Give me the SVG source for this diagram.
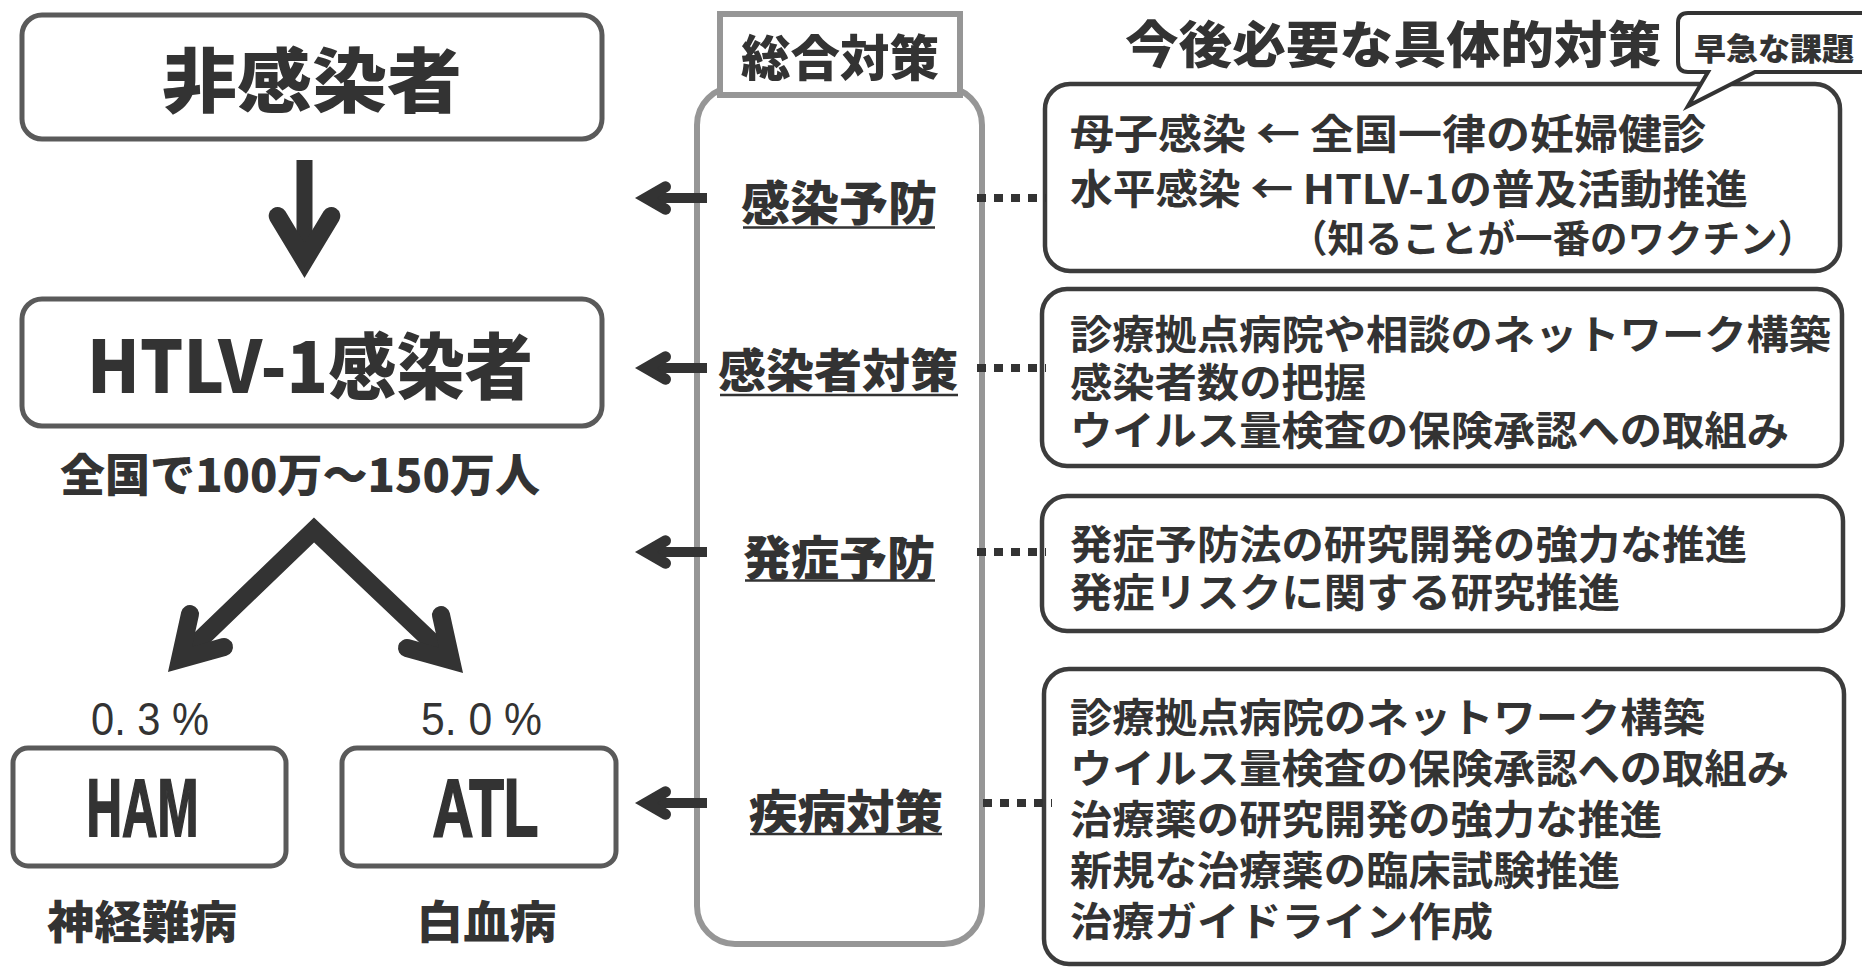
<svg xmlns="http://www.w3.org/2000/svg" xmlns:xlink="http://www.w3.org/1999/xlink" width="1862" height="968" viewBox="0 0 1862 968">
<style>
.jp{font-family:'Noto Sans CJK JP','Noto Sans CJK SC',sans-serif;fill:#333}
.hv{font-weight:900}
.bd{font-weight:700}
.lat{font-family:'Liberation Sans','Noto Sans CJK JP',sans-serif;fill:#333}
.emb{stroke:#333;stroke-width:2}
.lbox{fill:#fff;stroke:#5a5a5a;stroke-width:5}
.rbox{fill:#fff;stroke:#3c3c3c;stroke-width:4.5}
.gbox{fill:#fff;stroke:#969696;stroke-width:6}
.ul{stroke:#333;stroke-width:2.5}
.dot{stroke:#333;stroke-width:8;stroke-dasharray:9 8;fill:none}
.ar{stroke:#333;fill:none}
</style>
<defs>
<g id="la">
<path class="ar" d="M11,0 H72" stroke-width="10"/>
<path class="ar" d="M30.5,-11.25 L11,0 L30.5,11.25" stroke-width="11" stroke-linecap="round" stroke-linejoin="miter"/>
</g>
</defs>
<rect width="1862" height="968" fill="#fff"/>

<g id="node-hikansen">
<rect class="lbox" x="22" y="15" width="580" height="124" rx="20"/>
<text class="jp hv" x="312" y="107" font-size="70" text-anchor="middle" textLength="300" lengthAdjust="spacingAndGlyphs">非感染者</text>
</g>
<g id="node-kansen">
<rect class="lbox" x="22" y="299" width="580" height="127" rx="20"/>
<text class="jp hv" x="310" y="393" font-size="72" text-anchor="middle" textLength="446" lengthAdjust="spacingAndGlyphs">HTLV-1感染者</text>
<text class="jp hv" x="300" y="492" font-size="45" text-anchor="middle" textLength="480" lengthAdjust="spacingAndGlyphs">全国で100万〜150万人</text>
</g>
<g id="node-ham">
<text class="lat" x="91" y="735" font-size="47" textLength="118" lengthAdjust="spacingAndGlyphs">0. 3 %</text>
<rect class="lbox" x="13" y="748" width="273" height="118" rx="15"/>
<text class="lat bd emb" x="142.5" y="836" font-size="82" text-anchor="middle" textLength="112" lengthAdjust="spacingAndGlyphs">HAM</text>
<text class="jp hv" x="142" y="939" font-size="45" text-anchor="middle" textLength="190" lengthAdjust="spacingAndGlyphs">神経難病</text>
</g>
<g id="node-atl">
<text class="lat" x="421" y="735" font-size="47" textLength="121" lengthAdjust="spacingAndGlyphs">5. 0 %</text>
<rect class="lbox" x="342" y="748" width="274" height="118" rx="15"/>
<text class="lat bd emb" x="485.5" y="836" font-size="82" text-anchor="middle" textLength="106" lengthAdjust="spacingAndGlyphs">ATL</text>
<text class="jp hv" x="486.5" y="939" font-size="45" text-anchor="middle" textLength="140" lengthAdjust="spacingAndGlyphs">白血病</text>
</g>

<g id="node-sogo">
<rect class="gbox" x="697" y="87" width="285" height="857" rx="38"/>
<rect class="gbox" x="720" y="14" width="240" height="81"/>
<text class="jp hv" x="840" y="76" font-size="49" text-anchor="middle" textLength="198" lengthAdjust="spacingAndGlyphs">総合対策</text>
</g>
<g id="node-yobo">
<text class="jp hv" x="839" y="220" font-size="47" text-anchor="middle" textLength="196" lengthAdjust="spacingAndGlyphs">感染予防</text>
<line class="ul" x1="743" y1="227.5" x2="935" y2="227.5"/>
</g>
<g id="node-kansensha">
<text class="jp hv" x="838" y="387" font-size="46" text-anchor="middle" textLength="240" lengthAdjust="spacingAndGlyphs">感染者対策</text>
<line class="ul" x1="720" y1="395" x2="958" y2="395"/>
</g>
<g id="node-hassho">
<text class="jp hv" x="839" y="575" font-size="47" text-anchor="middle" textLength="192" lengthAdjust="spacingAndGlyphs">発症予防</text>
<line class="ul" x1="745" y1="580.5" x2="935" y2="580.5"/>
</g>
<g id="node-shippei">
<text class="jp hv" x="846" y="829" font-size="47" text-anchor="middle" textLength="194" lengthAdjust="spacingAndGlyphs">疾病対策</text>
<line class="ul" x1="750" y1="834" x2="942" y2="834"/>
</g>

<g id="node-title">
<text class="jp hv" x="1125" y="63" font-size="50" textLength="536" lengthAdjust="spacingAndGlyphs">今後必要な具体的対策</text>
</g>
<g id="node-box-a">
<rect class="rbox" x="1045" y="84" width="795" height="187" rx="25"/>
<text class="jp bd" x="1070" y="149" font-size="41" textLength="636" lengthAdjust="spacingAndGlyphs">母子感染 ← 全国一律の妊婦健診</text>
<text class="jp bd" x="1070" y="204" font-size="41" textLength="678" lengthAdjust="spacingAndGlyphs">水平感染 ← HTLV-1の普及活動推進</text>
<text class="jp bd" x="1290" y="252" font-size="38" textLength="525" lengthAdjust="spacingAndGlyphs">（知ることが一番のワクチン）</text>
</g>
<g id="node-bubble">
<path d="M1688,13 L1872,13 L1872,72 L1755,72 L1688,106 L1708,72 L1688,72 Q1678,72 1678,62 L1678,23 Q1678,13 1688,13 Z" fill="#fff" stroke="#333" stroke-width="4" stroke-linejoin="miter"/>
<text class="jp hv" x="1694" y="60" font-size="31" textLength="160" lengthAdjust="spacingAndGlyphs">早急な課題</text>
</g>
<g id="node-box-b">
<rect class="rbox" x="1042" y="289" width="800" height="177" rx="25"/>
<text class="jp bd" x="1070" y="349" font-size="40" textLength="761" lengthAdjust="spacingAndGlyphs">診療拠点病院や相談のネットワーク構築</text>
<text class="jp bd" x="1070" y="397" font-size="40" textLength="296" lengthAdjust="spacingAndGlyphs">感染者数の把握</text>
<text class="jp bd" x="1070" y="445" font-size="40" textLength="719" lengthAdjust="spacingAndGlyphs">ウイルス量検査の保険承認への取組み</text>
</g>
<g id="node-box-c">
<rect class="rbox" x="1042" y="496" width="801" height="135" rx="25"/>
<text class="jp bd" x="1070" y="559" font-size="40" textLength="677" lengthAdjust="spacingAndGlyphs">発症予防法の研究開発の強力な推進</text>
<text class="jp bd" x="1070" y="607" font-size="40" textLength="550" lengthAdjust="spacingAndGlyphs">発症リスクに関する研究推進</text>
</g>
<g id="node-box-d">
<rect class="rbox" x="1044" y="669" width="800" height="295" rx="25"/>
<text class="jp bd" x="1070" y="732" font-size="40" textLength="635" lengthAdjust="spacingAndGlyphs">診療拠点病院のネットワーク構築</text>
<text class="jp bd" x="1070" y="783" font-size="40" textLength="719" lengthAdjust="spacingAndGlyphs">ウイルス量検査の保険承認への取組み</text>
<text class="jp bd" x="1070" y="834" font-size="40" textLength="592" lengthAdjust="spacingAndGlyphs">治療薬の研究開発の強力な推進</text>
<text class="jp bd" x="1070" y="885" font-size="40" textLength="550" lengthAdjust="spacingAndGlyphs">新規な治療薬の臨床試験推進</text>
<text class="jp bd" x="1070" y="936" font-size="40" textLength="423" lengthAdjust="spacingAndGlyphs">治療ガイドライン作成</text>
</g>

<g id="connectors">
<path class="ar" d="M304.5,160 V261" stroke-width="16"/>
<path class="ar" d="M277.7,216 L304.5,260.5 L331.3,216" stroke-width="18" stroke-linecap="round" stroke-linejoin="miter"/>
<path class="ar" d="M180,659 L314,530 L451,660" stroke-width="18" stroke-linejoin="miter"/>
<path class="ar" d="M190,614 L180,659.3 L224,647" stroke-width="18" stroke-linecap="round" stroke-linejoin="miter"/>
<path class="ar" d="M441,615 L451,660.3 L407,648" stroke-width="18" stroke-linecap="round" stroke-linejoin="miter"/>
<use xlink:href="#la" href="#la" x="635" y="198"/>
<use xlink:href="#la" href="#la" x="635" y="368"/>
<use xlink:href="#la" href="#la" x="635" y="552"/>
<use xlink:href="#la" href="#la" x="635" y="803"/>
<line class="dot" x1="977" y1="198" x2="1046" y2="198"/>
<line class="dot" x1="977" y1="368" x2="1046" y2="368"/>
<line class="dot" x1="977" y1="552" x2="1046" y2="552"/>
<line class="dot" x1="983" y1="803" x2="1052" y2="803"/>
</g>
</svg>
